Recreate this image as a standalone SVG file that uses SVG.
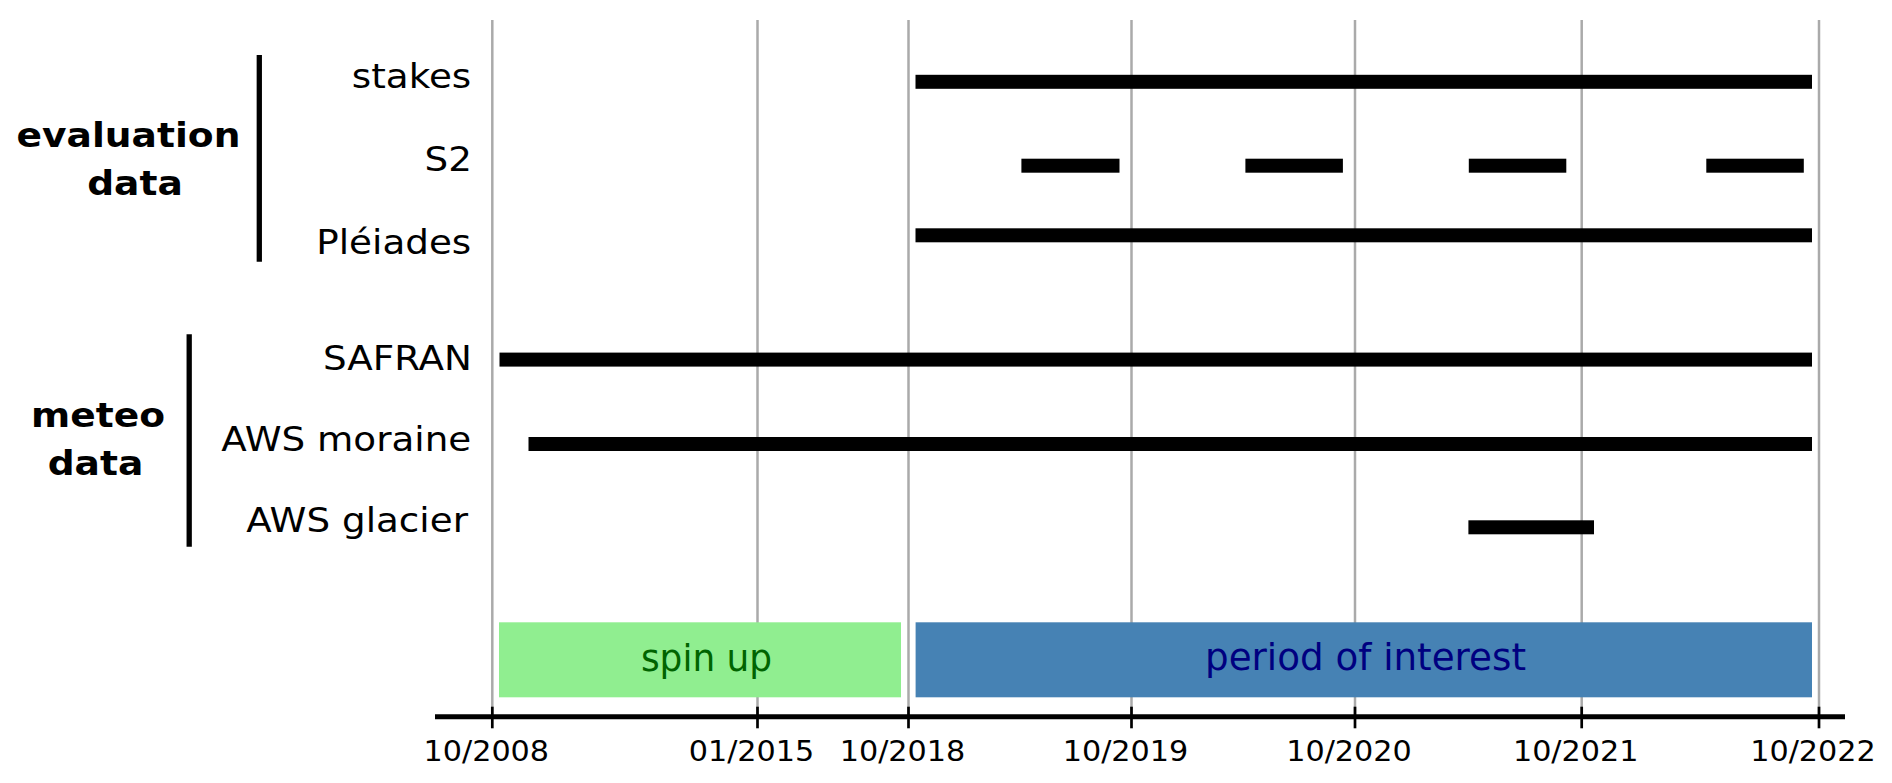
<svg xmlns="http://www.w3.org/2000/svg" width="1892" height="783" viewBox="0 0 1892 783">
<style>
.grid{stroke:#aaaaaa;stroke-width:2.5}
.bar{fill:#000}
.tick{stroke:#000;stroke-width:2.7}
.brk{stroke:#000;stroke-width:5.3}
.lbl{font-family:"DejaVu Sans",sans-serif;font-size:33px;fill:#000;text-anchor:end}
.grp{font-family:"DejaVu Sans",sans-serif;font-size:34.5px;font-weight:bold;fill:#000;text-anchor:middle}
.tl{font-family:"DejaVu Sans",sans-serif;font-size:28.8px;fill:#000;text-anchor:middle}
.bx{font-family:"DejaVu Sans",sans-serif;font-size:38px;text-anchor:middle}
</style>
<rect width="1892" height="783" fill="#fff"/>
<g id="gridlines">
<line class="grid" x1="492.3" y1="20" x2="492.3" y2="716"/>
<line class="grid" x1="757.5" y1="20" x2="757.5" y2="716"/>
<line class="grid" x1="908.5" y1="20" x2="908.5" y2="716"/>
<line class="grid" x1="1131.5" y1="20" x2="1131.5" y2="716"/>
<line class="grid" x1="1355" y1="20" x2="1355" y2="716"/>
<line class="grid" x1="1581.7" y1="20" x2="1581.7" y2="716"/>
<line class="grid" x1="1819" y1="20" x2="1819" y2="716"/>
</g>
<g id="phase-spinup">
<rect x="499" y="622.3" width="402" height="75" fill="#90ee90"/>
<text class="bx" fill="#006400" transform="translate(706.5,670.7) scale(0.945,1)">spin up</text>
</g>
<g id="phase-interest">
<rect x="915.6" y="622.3" width="896.4" height="75" fill="#4682b4"/>
<text class="bx" fill="#000080" transform="translate(1365.5,670) scale(0.98,1)">period of interest</text>
</g>
<g id="group-evaluation">
<line class="brk" x1="259.3" y1="55" x2="259.3" y2="261.7"/>
<text class="grp" transform="translate(128.5,147) scale(1.09,1)">evaluation</text>
<text class="grp" transform="translate(135,194.5) scale(1.09,1)">data</text>
</g>
<g id="group-meteo">
<line class="brk" x1="189.2" y1="334.3" x2="189.2" y2="546.7"/>
<text class="grp" transform="translate(98,427) scale(1.09,1)">meteo</text>
<text class="grp" transform="translate(95.5,475) scale(1.09,1)">data</text>
</g>
<g id="row-stakes">
<text class="lbl" transform="translate(471.3,87.5) scale(1.13,1)">stakes</text>
<rect class="bar" x="915.5" y="74.8" width="896.5" height="14"/>
</g>
<g id="row-s2">
<text class="lbl" transform="translate(472,171) scale(1.13,1)">S2</text>
<rect class="bar" x="1021.4" y="158.7" width="98.1" height="14"/>
<rect class="bar" x="1245.4" y="158.7" width="97.5" height="14"/>
<rect class="bar" x="1468.8" y="158.7" width="97.5" height="14"/>
<rect class="bar" x="1706.3" y="158.7" width="97.5" height="14"/>
</g>
<g id="row-pleiades">
<text class="lbl" transform="translate(471.3,253.5) scale(1.13,1)">Pléiades</text>
<rect class="bar" x="915.5" y="228.3" width="896.5" height="14"/>
</g>
<g id="row-safran">
<text class="lbl" transform="translate(472,369.5) scale(1.13,1)">SAFRAN</text>
<rect class="bar" x="499.5" y="352.6" width="1312.5" height="14"/>
</g>
<g id="row-aws-moraine">
<text class="lbl" transform="translate(471.3,451) scale(1.13,1)">AWS moraine</text>
<rect class="bar" x="528.5" y="437" width="1283.5" height="14"/>
</g>
<g id="row-aws-glacier">
<text class="lbl" transform="translate(468,532) scale(1.13,1)">AWS glacier</text>
<rect class="bar" x="1468.4" y="520.3" width="125.6" height="14"/>
</g>
<g id="axis">
<line x1="435" y1="716.8" x2="1845" y2="716.8" stroke="#000" stroke-width="5"/>
<line class="tick" x1="492.3" y1="706.7" x2="492.3" y2="728.3"/>
<line class="tick" x1="757.5" y1="706.7" x2="757.5" y2="728.3"/>
<line class="tick" x1="908.5" y1="706.7" x2="908.5" y2="728.3"/>
<line class="tick" x1="1131.5" y1="706.7" x2="1131.5" y2="728.3"/>
<line class="tick" x1="1355" y1="706.7" x2="1355" y2="728.3"/>
<line class="tick" x1="1581.7" y1="706.7" x2="1581.7" y2="728.3"/>
<line class="tick" x1="1819" y1="706.7" x2="1819" y2="728.3"/>
<text class="tl" transform="translate(486.3,761) scale(1.05,1)">10/2008</text>
<text class="tl" transform="translate(751.5,761) scale(1.05,1)">01/2015</text>
<text class="tl" transform="translate(902.5,761) scale(1.05,1)">10/2018</text>
<text class="tl" transform="translate(1125.5,761) scale(1.05,1)">10/2019</text>
<text class="tl" transform="translate(1349,761) scale(1.05,1)">10/2020</text>
<text class="tl" transform="translate(1575.7,761) scale(1.05,1)">10/2021</text>
<text class="tl" transform="translate(1813,761) scale(1.05,1)">10/2022</text>
</g>
</svg>
